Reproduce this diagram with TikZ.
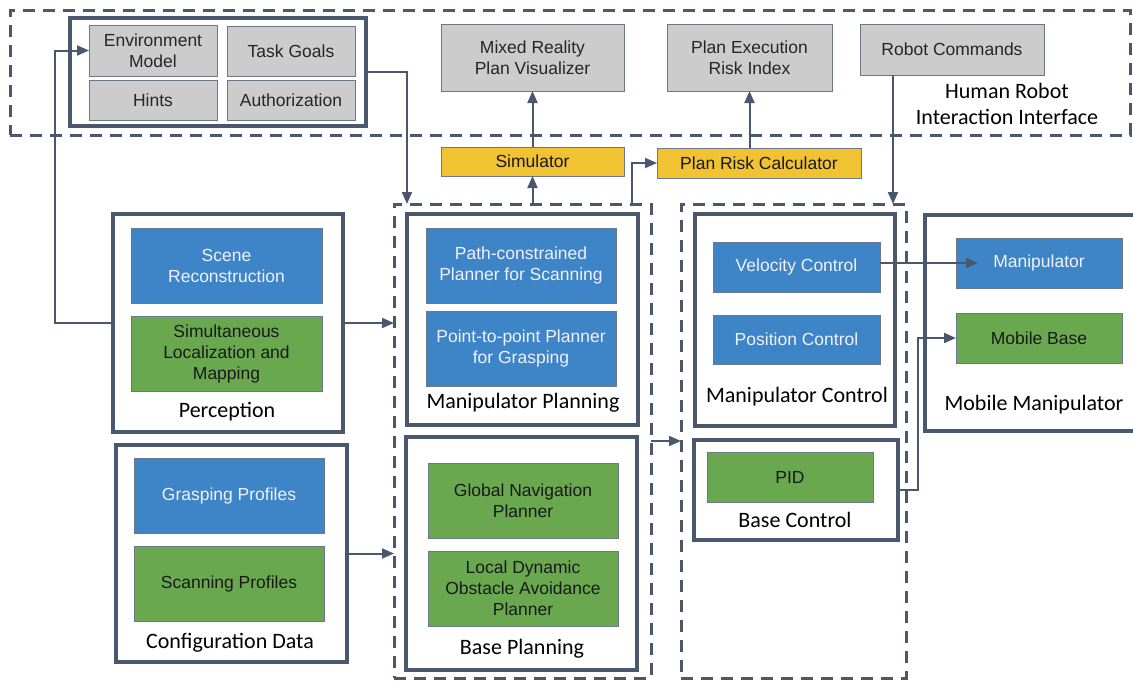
\documentclass[tikz,border=0pt]{standalone}
\usepackage{fontspec}
\setmainfont{Liberation Sans}
\newfontfamily\lblfont{Carlito}
\usetikzlibrary{arrows.meta,calc}
\definecolor{slate}{HTML}{4A586E}
\definecolor{thinline}{HTML}{6A7889}
\definecolor{gbox}{HTML}{CCCCCC}
\definecolor{bbox}{HTML}{3D85C6}
\definecolor{grbox}{HTML}{6AA84F}
\definecolor{ybox}{HTML}{F1C232}
\begin{document}
\begin{tikzpicture}[x=1pt,y=-1pt,
  base/.style={rectangle, inner sep=0pt, outer sep=0pt, align=center,
    font=\fontsize{17.5}{21}\selectfont, draw=thinline, line width=1pt},
  graybox/.style={base, fill=gbox, text=black!85},
  bluebox/.style={base, fill=bbox, text=white!94!blue},
  greenbox/.style={base, fill=grbox, text=black!90},
  yellowbox/.style={base, fill=ybox, text=black!90},
  panel/.style={rectangle, inner sep=0pt, outer sep=0pt, draw=slate, line width=4pt},
  group/.style={rectangle, inner sep=0pt, outer sep=0pt, draw=slate, line width=3pt,
    dash pattern=on 12pt off 8pt},
  lbl/.style={inner sep=0pt, align=center, font=\lblfont\fontsize{22}{26}\selectfont, text=black},
  arr/.style={draw=slate, line width=2pt, -{Triangle[length=12pt,width=10pt]}},
]
\useasboundingbox (0,0) rectangle (1133,681);
\clip (0,0) rectangle (1133,681);

% Human robot interaction interface
\node[group, minimum width=1120, minimum height=125] (hri) at (570,72.5) {};
\node[panel, minimum width=296, minimum height=108] (hripanel) at (218,72) {};
\node[graybox, minimum width=128, minimum height=51] (env) at (153,50.5) {Environment\\Model};
\node[graybox, minimum width=128, minimum height=50] (goals) at (291,51) {Task Goals};
\node[graybox, minimum width=128, minimum height=40] (hints) at (153,100) {Hints};
\node[graybox, minimum width=128, minimum height=40] (auth) at (291,100) {Authorization};
\node[graybox, minimum width=183, minimum height=67] (mrv) at (532.5,57.5) {Mixed Reality\\Plan Visualizer};
\node[graybox, minimum width=165, minimum height=67] (peri) at (749.5,57.5) {Plan Execution\\Risk Index};
\node[graybox, minimum width=184, minimum height=51] (rcmd) at (952,49.5) {Robot Commands};
\node[lbl] (hrilabel) at (1007,104) {Human Robot\\Interaction Interface};

% Simulator and risk calculator
\node[yellowbox, minimum width=183, minimum height=29] (sim) at (532.5,161.5) {Simulator};
\node[yellowbox, minimum width=204, minimum height=30] (prc) at (759,163) {Plan Risk Calculator};

% Groups
\node[group, minimum width=257, minimum height=474] (plangrp) at (522.5,441) {};
\node[group, minimum width=225, minimum height=474] (ctrlgrp) at (793.5,441) {};

% Manipulator planning
\node[panel, minimum width=231, minimum height=211] (manplan) at (522.5,319.5) {};
\node[bluebox, minimum width=190, minimum height=75] (pathc) at (521,265.5) {Path-constrained\\Planner for Scanning};
\node[bluebox, minimum width=190, minimum height=75] (p2p) at (521,348.5) {Point-to-point Planner\\for Grasping};
\node[lbl] (manplanlbl) at (523,403) {Manipulator Planning};

% Base planning
\node[panel, minimum width=231, minimum height=233] (baseplan) at (521.5,553.5) {};
\node[greenbox, minimum width=190, minimum height=75] (gnav) at (523,500.5) {Global Navigation\\Planner};
\node[greenbox, minimum width=190, minimum height=75] (ldyn) at (523,588.5) {Local Dynamic\\Obstacle Avoidance\\Planner};
\node[lbl] (baseplanlbl) at (522,649) {Base Planning};

% Manipulator control
\node[panel, minimum width=200, minimum height=212] (manctrl) at (795,320) {};
\node[bluebox, minimum width=167, minimum height=50] (vel) at (796.5,267) {Velocity Control};
\node[bluebox, minimum width=167, minimum height=49] (pos) at (796.5,339.5) {Position Control};
\node[lbl] (manctrllbl) at (797,397) {Manipulator Control};

% Base control
\node[panel, minimum width=204, minimum height=100] (basectrl) at (796,490) {};
\node[greenbox, minimum width=166, minimum height=50] (pid) at (790,477) {PID};
\node[lbl] (basectrllbl) at (795,520) {Base Control};

% Mobile manipulator
\node[panel, minimum width=220, minimum height=216] (mobman) at (1035,323) {};
\node[bluebox, minimum width=166, minimum height=50] (manip) at (1039,263) {Manipulator};
\node[greenbox, minimum width=166, minimum height=50] (mbase) at (1039,338) {Mobile Base};
\node[lbl] (mobmanlbl) at (1034,405) {Mobile Manipulator};

% Perception
\node[panel, minimum width=230, minimum height=218] (perc) at (228,323) {};
\node[bluebox, minimum width=191, minimum height=75] (scene) at (226.5,265.5) {Scene\\Reconstruction};
\node[greenbox, minimum width=191, minimum height=75] (slam) at (226.5,353.5) {Simultaneous\\Localization and\\Mapping};
\node[lbl] (perclbl) at (227,412) {Perception};

% Configuration data
\node[panel, minimum width=231, minimum height=217] (config) at (231.5,553.5) {};
\node[bluebox, minimum width=190, minimum height=75] (grasp) at (229,495.5) {Grasping Profiles};
\node[greenbox, minimum width=190, minimum height=75] (scan) at (229,583.5) {Scanning Profiles};
\node[lbl] (configlbl) at (230,643) {Configuration Data};

% Helper coordinates
\coordinate (xloop) at (55,0);
\coordinate (xgoal) at (407,0);
\coordinate (xrisk) at (632,0);
\coordinate (xcmd) at (893,0);

% Connectors
\draw[arr] (perc.west) -- (perc.west -| xloop) |- (env.west);
\draw[arr] (perc.east) -- (perc.east -| plangrp.west);
\draw[arr] (config.east) -- (config.east -| plangrp.west);
\draw[arr] (hripanel.east) -| (plangrp.north -| xgoal);
\draw[arr] (plangrp.north -| sim.south) -- (sim.south);
\draw[arr] (sim.north) -- (mrv.south);
\draw[arr] (plangrp.north -| xrisk) |- (prc.west);
\draw[arr] (prc.north -| peri.south) -- (peri.south);
\draw[arr] (rcmd.south -| xcmd) -- (ctrlgrp.north -| xcmd);
\draw[arr] (plangrp.east) -- (ctrlgrp.west);
\draw[arr] (manip.west -| vel.east) -- ($(manip.west)+(22,0)$);
\draw[arr] (basectrl.east) -- ++(20,0) |- (mbase.west);
\end{tikzpicture}
\end{document}
